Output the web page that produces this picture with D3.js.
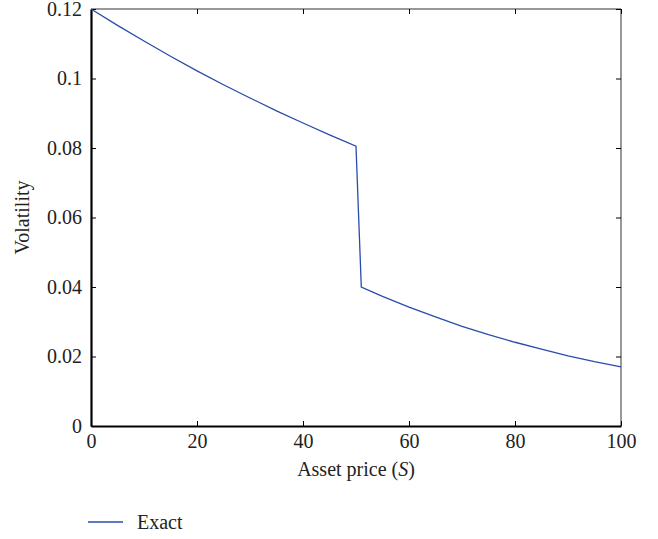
<!DOCTYPE html>
<html>
<head>
<meta charset="utf-8">
<script src="https://cdn.jsdelivr.net/npm/d3@7"></script>
<style>
  body { margin: 0; background: #fff; }
  text { font-family: "Liberation Serif", "DejaVu Serif", serif; fill: #222; }
</style>
</head>
<body>
<div id="chart"></div>
<script>
// asset price S and exact volatility
var price = [0, 5, 10, 15, 20, 25, 30, 35, 40, 45, 50, 51, 55, 60, 65, 70, 75, 80, 85, 90, 95, 100];
var exact = [0.120, 0.1153, 0.1108, 0.1064, 0.1022, 0.0982, 0.0944, 0.0907, 0.0872, 0.0838, 0.0805,
             0.0400, 0.0373, 0.0342, 0.0314, 0.0287, 0.0263, 0.0241, 0.0221, 0.0202, 0.0185, 0.0170];
var xTicks = [0, 20, 40, 60, 80, 100];
var yTicks = [0, 0.02, 0.04, 0.06, 0.08, 0.1, 0.12];

var width = 658, height = 539;
var margin = {left: 91, right: 37, top: 9, bottom: 113};
var w = width - margin.left - margin.right, h = height - margin.top - margin.bottom;
var fs = "20px";

var svg = d3.select("#chart").append("svg").attr("width", width).attr("height", height);
var g = svg.append("g").attr("transform", "translate(" + margin.left + "," + margin.top + ")");

var x = d3.scaleLinear().domain([0, 100]).range([0, w]);
var y = d3.scaleLinear().domain([0, 0.12]).range([h, 0]);

// frame
g.append("line").attr("x1", 0).attr("x2", w).attr("y1", 0).attr("y2", 0).attr("stroke", "#333").attr("stroke-width", 1.2);
g.append("line").attr("x1", w).attr("x2", w).attr("y1", 0).attr("y2", h).attr("stroke", "#555").attr("stroke-width", 1.2);

var fmt = function(d) { return d === 0 ? "0" : String(+d.toFixed(2)); };

var xAxisG = g.append("g").attr("transform", "translate(0," + h + ")")
  .call(d3.axisBottom(x).tickValues(xTicks).tickSizeInner(-5).tickSizeOuter(0).tickPadding(8).tickFormat(fmt));
var yAxisG = g.append("g")
  .call(d3.axisLeft(y).tickValues(yTicks).tickSizeInner(-5).tickSizeOuter(0).tickPadding(9).tickFormat(fmt));
var topAxisG = g.append("g")
  .call(d3.axisTop(x).tickValues(xTicks).tickSizeInner(-5).tickSizeOuter(0).tickFormat(""));
var rightAxisG = g.append("g").attr("transform", "translate(" + w + ",0)")
  .call(d3.axisRight(y).tickValues(yTicks).tickSizeInner(-5).tickSizeOuter(0).tickFormat(""));

[xAxisG, yAxisG].forEach(function(a) {
  a.select(".domain").attr("stroke", "#000").attr("stroke-width", 2.2);
  a.selectAll(".tick line").attr("stroke", "#000");
  a.selectAll("text").style("font-family", "Liberation Serif, serif").style("font-size", fs).attr("fill", "#222");
});
[topAxisG, rightAxisG].forEach(function(a) {
  a.select(".domain").remove();
  a.selectAll(".tick line").attr("stroke", "#000");
});
yAxisG.selectAll("text").attr("dy", "0.32em");

// series
var line = d3.line().x(function(d, i) { return x(price[i]); }).y(function(d) { return y(d); });
g.append("path").datum(exact).attr("d", line)
  .attr("fill", "none").attr("stroke", "#2a4caa").attr("stroke-width", 1.3);

// axis titles
var xl = svg.append("text").attr("x", 356).attr("y", 476)
  .attr("text-anchor", "middle").style("font-size", fs);
xl.append("tspan").text("Asset price (");
xl.append("tspan").style("font-style", "italic").text("S");
xl.append("tspan").text(")");

svg.append("text").attr("transform", "translate(29," + (margin.top + h / 2) + ") rotate(-90)")
  .attr("text-anchor", "middle").style("font-size", fs).text("Volatility");

// legend
svg.append("line").attr("x1", 88).attr("x2", 123).attr("y1", 522).attr("y2", 522)
  .attr("stroke", "#2a4caa").attr("stroke-width", 1.3);
svg.append("text").attr("x", 137).attr("y", 529).style("font-size", fs).text("Exact");
</script>
</body>
</html>
